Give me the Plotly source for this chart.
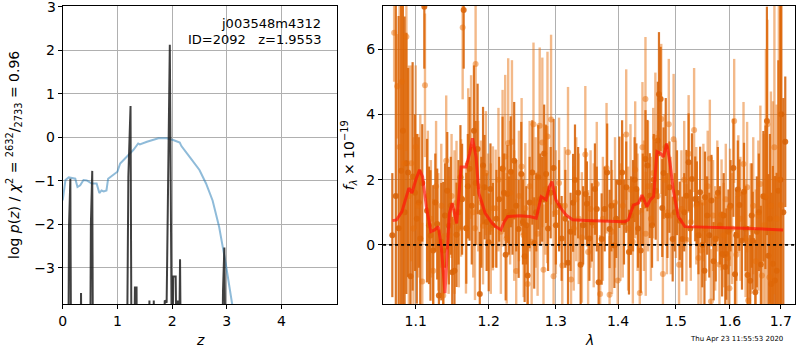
import plotly.graph_objects as go
import math

# ---------------- left panel data ----------------
z_chi2 = [0.0, 0.02, 0.05, 0.11, 0.23, 0.27, 0.32, 0.38, 0.44, 0.53, 0.62, 0.67, 0.71, 0.75, 0.80, 0.83,
          0.92, 1.0, 1.05, 1.17, 1.29, 1.38, 1.41, 1.54, 1.66, 1.75, 1.9, 2.02, 2.14, 2.17, 2.32, 2.5,
          2.62, 2.74, 2.86, 2.98, 3.1, 3.2]
logp_chi2 = [-1.45, -1.29, -0.98, -0.92, -0.95, -1.14, -1.1, -0.98, -0.99, -1.06, -1.06, -1.28, -1.22,
             -1.24, -1.22, -0.95, -0.87, -0.79, -0.6, -0.45, -0.29, -0.14, -0.16, -0.1, -0.06, -0.02,
             -0.02, -0.06, -0.12, -0.2, -0.45, -0.75, -1.06, -1.45, -2.06, -2.9, -3.85, -4.6]

z_pz = [0.0, 0.10, 0.115, 0.14, 0.155, 0.32, 0.335, 0.35, 0.50, 0.515, 0.54, 0.555,
        1.17, 1.20, 1.24, 1.26, 1.30, 1.32, 1.35, 1.36, 1.57, 1.585, 1.60, 1.65, 1.665, 1.68,
        1.84, 1.865, 1.90, 1.958, 2.0, 2.02, 2.065, 2.09, 2.105, 2.12, 2.145, 2.165,
        2.91, 2.93, 2.955, 2.985, 5.0]
logp_pz = [-6, -6, -2.05, -0.95, -6, -6, -3.58, -6, -6, -2.0, -0.77, -6,
           -6, -0.9, 0.72, -6, -6, -3.45, -3.45, -6, -6, -3.75, -6, -6, -3.75, -6,
           -6, -3.75, -3.8, 2.13, -6, -3.2, -3.2, -6, -3.75, -6, -2.8, -6,
           -6, -3.55, -2.53, -6, -6]

z_ticks = [0, 1, 2, 3, 4]
logp_ticks = [-3, -2, -1, 0, 1, 2, 3]

# ---------------- right panel data ----------------
lam_dark = [1.0697, 1.0742, 1.0778, 1.0810, 1.0833, 1.0855, 1.0878, 1.0900, 1.0932, 1.0959, 1.0990, 1.1014,
            1.1040, 1.1059, 1.1086, 1.1113, 1.1149, 1.1175, 1.1195, 1.1231, 1.1260, 1.1285, 1.1308, 1.1340,
            1.1367, 1.1390, 1.1421, 1.1443, 1.1470, 1.1489, 1.1520, 1.1548, 1.1575, 1.1602, 1.1625, 1.1647,
            1.1683, 1.1705, 1.1729, 1.1760, 1.1790, 1.1815, 1.1842, 1.1873, 1.1895, 1.1919, 1.1941, 1.1970,
            1.2000, 1.2025, 1.2060, 1.2110, 1.2150, 1.2200, 1.2220, 1.2245, 1.2270, 1.2295, 1.2320, 1.2345,
            1.2370, 1.2400, 1.2436, 1.2475, 1.2500, 1.2525, 1.2550, 1.2570, 1.2600, 1.2640, 1.2669, 1.2700,
            1.2730, 1.2760, 1.2790, 1.2820, 1.2850, 1.2880, 1.2920, 1.2965, 1.3000, 1.3050, 1.3090, 1.3148,
            1.3190, 1.3230, 1.3270, 1.3300, 1.3350, 1.3390, 1.3430, 1.3470, 1.3490, 1.3530, 1.3570, 1.3620,
            1.3650, 1.3680, 1.3730, 1.3780, 1.3820, 1.3860, 1.3890, 1.3940, 1.3970, 1.4023, 1.4069, 1.4100,
            1.4138, 1.4184, 1.4220, 1.4253, 1.4280, 1.4310, 1.4340, 1.4385, 1.4420, 1.4466, 1.4500, 1.4540,
            1.4580, 1.4610, 1.4644, 1.4680, 1.4701, 1.4730, 1.4759, 1.4782, 1.4820, 1.4850, 1.4885, 1.4943,
            1.4980, 1.5020, 1.5070, 1.5115, 1.5150, 1.5190, 1.5230, 1.5260, 1.5290, 1.5350, 1.5380, 1.5410,
            1.5440, 1.5480, 1.5520, 1.5530, 1.5570, 1.5610, 1.5650, 1.5690, 1.5730, 1.5770, 1.5810, 1.5850,
            1.5880, 1.5910, 1.5930, 1.5970, 1.6010, 1.6065, 1.6095, 1.6120, 1.6150, 1.6180, 1.6230, 1.6270,
            1.6300, 1.6340, 1.6390, 1.6420, 1.6440, 1.6490, 1.6520, 1.6560, 1.6600, 1.6650, 1.6690, 1.6720,
            1.6750, 1.6780, 1.6810, 1.6840, 1.6880, 1.6915, 1.6950, 1.6990, 1.7010, 1.7050, 1.7090]
flux_dark = [0.30, 1.50, 0.51, 2.27, 3.50, 1.00, 2.50, 2.22, -0.96, 2.10, 1.60, 0.80,
             1.30, 0.20, 1.90, 7.30, 1.05, 0.60, 0.29, -0.17, 1.30, 0.64, -1.55, 0.10,
             -0.17, 0.90, 1.66, 0.59, 1.20, -0.84, -0.79, 0.31, 1.00, 2.07, 1.40, 7.20,
             0.51, 1.80, 2.33, 1.20, 3.50, 1.90, 2.94, -1.50, 1.00, 2.43, 1.77, 0.70,
             0.08, 1.71, 0.60, 0.80, 1.40, 2.33, 1.60, -0.30, 1.56, 0.90, 2.24, 1.00,
             2.58, 1.20, 0.49, 2.17, 0.70, -0.35, 0.60, -0.94, 1.30, 2.22, 0.06, 1.00,
             2.07, 1.40, 1.40, 2.80, 2.17, 0.50, 1.60, 2.36, 0.60, 1.20, 0.20, 0.80,
             -0.55, 0.40, 1.29, 1.99, 1.60, -0.61, 0.60, 1.56, 1.26, 0.20, 0.69, 1.71,
             1.10, -1.14, 0.18, 1.10, 2.22, 0.49, 1.20, -0.02, 0.80, 1.92, 2.22, 0.70,
             1.77, -0.22, 0.90, 1.20, 2.00, 1.71, 0.50, -0.17, 1.40, 2.63, 2.43, 1.51,
             0.60, 2.00, 1.66, 3.20, 4.62, 4.47, 1.13, 2.20, 3.00, 0.90, 1.77, 0.18,
             1.00, 1.60, 0.74, 0.18, 1.00, 1.51, 2.53, 0.50, 2.02, 1.41, 1.26, 0.30,
             1.61, 0.00, -0.79, 1.46, 0.90, 0.30, 1.36, -0.50, 0.18, 1.60, 0.60, -0.28,
             0.90, -0.68, -0.28, 0.40, 1.20, 2.36, -0.90, 0.30, 1.70, 1.22, 0.13, 1.63,
             0.50, -0.92, -1.10, 0.90, 0.13, -1.45, 0.40, 1.00, -0.60, 1.49, 1.46, 3.80,
             -0.33, 0.80, -1.20, -0.58, -1.09, -0.79, 1.66, 2.00, 4.00, 1.00, 3.16]
err_dark = [1.9, 7.0, 6.5, 6.0, 5.5, 6.0, 4.0, 3.2, 3.0, 3.5, 2.4, 2.6,
            2.0, 2.1, 1.8, 1.9, 2.2, 1.8, 2.0, 2.0, 1.5, 1.7, 2.0, 1.8,
            2.1, 1.6, 1.8, 1.8, 1.5, 1.7, 1.9, 1.6, 1.6, 1.6, 1.7, 1.8,
            1.7, 1.6, 2.2, 1.8, 2.0, 1.9, 2.0, 1.9, 1.7, 1.8, 1.6, 1.5,
            1.5, 1.4, 1.3, 1.5, 1.3, 1.6, 1.2, 1.4, 1.5, 1.2, 1.7, 1.3,
            1.8, 1.4, 1.5, 1.6, 1.3, 1.4, 1.2, 1.5, 1.4, 1.6, 1.4, 1.2,
            1.6, 1.4, 1.3, 1.5, 1.5, 1.3, 1.4, 1.5, 1.2, 1.4, 1.3, 1.5,
            1.3, 1.2, 1.5, 1.7, 1.4, 1.3, 1.2, 1.4, 1.3, 1.3, 1.2, 1.4,
            1.3, 1.2, 1.4, 1.3, 1.5, 1.2, 1.4, 1.3, 1.2, 1.4, 1.6, 1.3,
            1.4, 1.3, 1.2, 1.4, 1.3, 1.4, 1.2, 1.3, 1.4, 1.5, 1.4, 1.3,
            1.3, 1.4, 1.5, 1.8, 1.9, 1.6, 1.5, 1.4, 1.5, 1.3, 1.4, 1.3,
            1.2, 1.3, 1.2, 1.3, 1.2, 1.4, 1.5, 1.2, 1.4, 1.3, 1.3, 1.2,
            1.4, 1.3, 1.3, 1.4, 1.2, 1.3, 1.4, 1.2, 1.3, 1.4, 1.2, 1.3,
            1.3, 1.2, 1.4, 1.3, 1.4, 1.5, 1.3, 1.4, 1.5, 1.4, 1.5, 1.5,
            1.3, 1.5, 1.4, 1.6, 1.5, 1.6, 1.7, 1.8, 1.8, 2.0, 2.2, 3.5,
            2.5, 2.6, 2.8, 3.0, 3.2, 3.0, 4.0, 8.0, 6.0, 3.5, 2.0]

lam_light = [1.0720, 1.0760, 1.0790, 1.0820, 1.0850, 1.0878, 1.0910, 1.0940, 1.0970, 1.1000, 1.1030, 1.1060,
             1.1086, 1.1122, 1.1160, 1.1200, 1.1231, 1.1270, 1.1300, 1.1340, 1.1367, 1.1407, 1.1440, 1.1480,
             1.1520, 1.1548, 1.1580, 1.1611, 1.1633, 1.1679, 1.1710, 1.1750, 1.1780, 1.1805, 1.1814, 1.1850,
             1.1890, 1.1919, 1.1960, 1.1990, 1.2030, 1.2060, 1.2100, 1.2140, 1.2175, 1.2200, 1.2238, 1.2260,
             1.2282, 1.2310, 1.2337, 1.2370, 1.2400, 1.2440, 1.2480, 1.2510, 1.2535, 1.2570, 1.2600, 1.2630,
             1.2658, 1.2690, 1.2720, 1.2752, 1.2792, 1.2810, 1.2840, 1.2866, 1.2871, 1.2926, 1.2965, 1.3000,
             1.3050, 1.3100, 1.3140, 1.3190, 1.3238, 1.3280, 1.3320, 1.3360, 1.3410, 1.3465, 1.3510, 1.3550,
             1.3600, 1.3650, 1.3705, 1.3750, 1.3810, 1.3860, 1.3900, 1.3950, 1.3995, 1.4040, 1.4080, 1.4138,
             1.4170, 1.4210, 1.4250, 1.4290, 1.4330, 1.4368, 1.4414, 1.4440, 1.4466, 1.4471, 1.4510, 1.4560,
             1.4600, 1.4638, 1.4680, 1.4741, 1.4770, 1.4800, 1.4840, 1.4874, 1.4910, 1.4960, 1.5000, 1.5057,
             1.5100, 1.5150, 1.5190, 1.5230, 1.5270, 1.5330, 1.5370, 1.5410, 1.5460, 1.5500, 1.5540, 1.5580,
             1.5620, 1.5640, 1.5680, 1.5720, 1.5760, 1.5800, 1.5840, 1.5880, 1.5920, 1.5960, 1.5990, 1.6000,
             1.6040, 1.6080, 1.6120, 1.6160, 1.6200, 1.6260, 1.6300, 1.6330, 1.6350, 1.6400, 1.6450, 1.6500,
             1.6550, 1.6590, 1.6620, 1.6660, 1.6700, 1.6730, 1.6770, 1.6800, 1.6840, 1.6870, 1.6915, 1.6960,
             1.7000]
flux_light = [6.50, 4.86, 3.00, 5.00, 2.50, 6.38, 1.50, 2.50, 0.50, 3.00, 1.20, 2.00,
              -1.12, 4.89, 1.50, 0.80, -0.79, 1.80, 0.40, 1.20, -1.55, 2.58, 0.30, 1.50,
              0.70, 1.29, 0.50, 1.44, 6.66, 0.51, 2.50, 3.00, 1.00, 0.51, 5.54, 1.80,
              1.30, 0.59, 2.20, 1.00, 0.50, 1.12, 1.12, 2.00, 0.40, 2.35, 2.71, 0.20,
              3.12, 1.60, 3.16, 0.90, -0.80, 1.50, 2.40, 0.30, 1.12, -1.20, 1.80, 0.10,
              3.70, 1.30, 0.34, 3.65, 3.14, -0.76, 1.70, 1.54, 3.32, 3.84, -0.96, 1.00,
              1.90, -0.63, 1.20, 2.84, -1.06, 0.50, 1.40, 0.80, 0.23, 2.77, -0.22, 1.10,
              0.60, 1.87, -1.50, 0.80, 2.35, -1.53, 0.40, 1.30, -1.09, 0.70, 1.20, 3.38,
              0.50, 1.70, 0.10, 2.30, 1.00, -1.47, 2.99, 1.20, 4.47, 0.34, 1.80, 0.80,
              2.20, 3.28, 1.50, 3.86, -0.89, 2.00, 1.00, 3.70, 0.90, 3.24, 1.40, -0.61,
              1.10, 2.00, 0.16, 2.79, 0.70, 3.52, 1.20, -0.40, -0.17, 1.30, 0.50, 1.80,
              2.65, -1.73, 0.90, 0.20, 1.50, -0.60, 0.92, 0.30, 1.40, -0.40, -1.33, 1.15,
              0.50, 3.80, -0.30, 1.56, 0.80, 2.48, 0.20, 1.77, -1.70, 0.50, 1.20, -0.50,
              0.90, 1.87, -0.94, 0.60, 1.50, 3.70, -0.99, 1.20, 0.40, 2.99, 0.80, 2.00,
              1.22]
err_light = [1.5, 1.6, 6.0, 5.0, 4.0, 3.5, 4.0, 3.0, 2.8, 2.5, 2.2, 2.0,
             1.8, 2.2, 2.0, 1.8, 2.2, 2.0, 1.8, 1.9, 1.9, 2.0, 1.8, 1.9,
             2.2, 1.9, 1.8, 1.8, 2.2, 2.0, 2.3, 2.2, 2.0, 2.2, 2.0, 2.0,
             1.9, 1.8, 1.9, 1.8, 2.0, 1.9, 1.8, 2.2, 1.9, 2.4, 2.5, 2.0,
             2.6, 2.2, 2.5, 2.0, 2.2, 2.0, 2.1, 1.9, 2.0, 2.1, 2.0, 2.2,
             2.5, 2.0, 1.9, 2.4, 2.6, 2.0, 2.0, 2.1, 2.6, 2.6, 2.0, 1.9,
             2.0, 1.9, 1.8, 2.0, 1.8, 1.9, 1.9, 2.0, 2.0, 2.1, 1.9, 1.8,
             1.9, 1.9, 1.8, 1.9, 2.0, 1.8, 1.9, 2.0, 1.9, 1.8, 2.2, 2.0,
             1.9, 2.0, 1.9, 2.1, 1.8, 1.9, 2.0, 2.0, 1.9, 1.9, 2.0, 1.9,
             2.0, 2.0, 2.0, 2.3, 1.9, 2.0, 1.9, 2.0, 1.8, 2.0, 1.8, 1.7,
             1.8, 1.8, 1.7, 1.8, 1.8, 1.9, 1.8, 1.7, 1.7, 1.8, 1.6, 1.7,
             1.8, 1.6, 1.7, 1.6, 1.7, 1.6, 1.7, 1.6, 1.7, 1.6, 1.7, 1.8,
             1.7, 1.9, 1.8, 1.8, 1.9, 1.9, 1.8, 2.0, 1.9, 2.0, 2.1, 2.2,
             2.3, 2.4, 2.5, 2.8, 4.5, 3.2, 3.0, 3.5, 4.0, 4.5, 3.5, 5.5,
             6.0]

lam_model = [1.070, 1.075, 1.082, 1.091, 1.095, 1.100, 1.105, 1.109, 1.114, 1.120, 1.125, 1.130,
             1.134, 1.139, 1.141, 1.145, 1.149, 1.155, 1.159, 1.161, 1.168, 1.173, 1.177, 1.182,
             1.186, 1.195, 1.205, 1.210, 1.2175, 1.2225, 1.2275, 1.245, 1.260, 1.270, 1.2775, 1.285,
             1.290, 1.294, 1.300, 1.3079, 1.3158, 1.3263, 1.3474, 1.3895, 1.4116, 1.4173, 1.426, 1.4347,
             1.4405, 1.4491, 1.4549, 1.4607, 1.4665, 1.4723, 1.478, 1.4838, 1.4896, 1.4954, 1.5042, 1.5162,
             1.5641, 1.6261, 1.7046]
flux_model = [0.745, 0.765, 1.02, 1.74, 1.59, 1.99, 2.30, 2.09, 1.17, 0.41, 0.46, 0.56,
              -0.05, -1.48, -0.66, 0.97, 1.28, 0.66, 1.78, 2.39, 2.39, 2.80, 3.27, 2.70,
              1.58, 0.97, 0.66, 0.56, 0.46, 0.71, 0.87, 0.89, 0.87, 0.82, 1.48, 1.38,
              1.79, 1.94, 1.38, 1.12, 0.92, 0.77, 0.75, 0.71, 0.71, 0.77, 1.22, 1.28,
              1.53, 1.17, 1.38, 1.48, 2.86, 2.81, 2.70, 3.11, 2.50, 1.68, 0.87, 0.56,
              0.54, 0.51, 0.46]

lam_ticks = [1.1, 1.2, 1.3, 1.4, 1.5, 1.6, 1.7]
flux_ticks = [0, 2, 4, 6]
lam_range = [1.058, 1.729]

label_field = "j003548m4312"
label_id = "ID=2092   z=1.9553"
timestamp = "Thu Apr 23 11:55:53 2020"

# ---------------- figure ----------------
FONT = "DejaVu Sans"
W, H = 800, 350
DX = -3  # horizontal pixel correction
fig = go.Figure()

fig.add_trace(go.Scatter(x=z_chi2, y=logp_chi2, mode="lines",
                         line=dict(color="rgba(31,119,180,0.5)", width=2),
                         xaxis="x", yaxis="y", showlegend=False))
fig.add_trace(go.Scatter(x=z_pz, y=logp_pz, mode="lines",
                         line=dict(color="rgba(30,30,30,0.85)", width=2),
                         xaxis="x", yaxis="y", showlegend=False))

fig.add_trace(go.Scatter(x=lam_dark, y=flux_dark, mode="markers",
                         marker=dict(color="rgba(214,98,8,0.88)", size=6, line=dict(width=0)),
                         error_y=dict(type="data", array=err_dark, color="rgba(214,98,8,0.88)",
                                      thickness=2.2, width=0),
                         xaxis="x2", yaxis="y2", showlegend=False))
fig.add_trace(go.Scatter(x=lam_light, y=flux_light, mode="markers",
                         marker=dict(color="rgba(229,109,9,0.48)", size=6, line=dict(width=0)),
                         error_y=dict(type="data", array=err_light, color="rgba(229,109,9,0.48)",
                                      thickness=2.4, width=0),
                         xaxis="x2", yaxis="y2", showlegend=False))
fig.add_trace(go.Scatter(x=lam_model, y=flux_model, mode="lines",
                         line=dict(color="rgba(255,20,10,0.7)", width=3),
                         xaxis="x2", yaxis="y2", showlegend=False))
fig.add_trace(go.Scatter(x=lam_range, y=[0, 0], mode="lines",
                         line=dict(color="black", width=1.6, dash="dot"),
                         xaxis="x2", yaxis="y2", showlegend=False))

axis_common = dict(showline=True, linecolor="black", linewidth=1, mirror=True,
                   ticks="outside", ticklen=4, tickcolor="black",
                   showgrid=True, gridcolor="#b0b0b0", gridwidth=1, zeroline=False,
                   tickfont=dict(family=FONT, size=14, color="black"))

y_dom = [1 - 304 / H, 1 - 6 / H]
fig.update_layout(
    width=W, height=H,
    margin=dict(l=0, r=0, t=0, b=0, pad=0),
    paper_bgcolor="white", plot_bgcolor="white",
    font=dict(family=FONT, size=13, color="black"),
    xaxis=dict(domain=[(62 + DX) / W, (338 + DX) / W], range=[0, 5.02], tickvals=z_ticks, anchor="y", **axis_common),
    yaxis=dict(domain=y_dom, range=[-3.83, 3.02], tickvals=logp_ticks, anchor="x", **axis_common),
    xaxis2=dict(domain=[(384 + DX) / W, (798 + DX) / W], type="log",
                range=[math.log10(lam_range[0]), math.log10(lam_range[1])],
                tickvals=lam_ticks, ticktext=[str(v) for v in lam_ticks], anchor="y2", **axis_common),
    yaxis2=dict(domain=y_dom, range=[-1.81, 7.32], tickvals=flux_ticks, anchor="x2", **axis_common),
)

ann = [
    dict(x=13, y=155, text="log <i>p</i>(<i>z</i>) / <i>χ</i><sup>2</sup> = <sup>2632</sup>/<sub>2733</sub> = 0.96",
         textangle=-90, font=dict(size=14)),
    dict(x=200, y=340, text="<i>z</i>", font=dict(size=14)),
    dict(x=591, y=340, text="<i>λ</i>", font=dict(size=14)),
    dict(x=350, y=155, text="<i>f</i><sub><i>λ</i></sub> × 10<sup>−19</sup>",
         textangle=-90, font=dict(size=14)),
    dict(x=324, y=23, text=label_field, xanchor="right", font=dict(size=13)),
    dict(x=324, y=39, text=label_id, xanchor="right", font=dict(size=13)),
    dict(x=788, y=339, text=timestamp, xanchor="right", font=dict(size=7)),
    # top tick label of the left axis (would otherwise be hidden at the page edge)
    dict(x=57, y=7, text=str(logp_ticks[-1]), xanchor="right", font=dict(size=14)),
]
for a in ann:
    a["x"] = (a["x"] + DX) / W
    a["y"] = 1 - a["y"] / H
    a.update(xref="paper", yref="paper", showarrow=False)
    a.setdefault("xanchor", "center")
    a["yanchor"] = "middle"
fig.update_layout(annotations=ann)

fig.write_html("out.html", config={"displayModeBar": False},
               post_script="document.body.style.margin='0';document.body.style.overflow='hidden';")
